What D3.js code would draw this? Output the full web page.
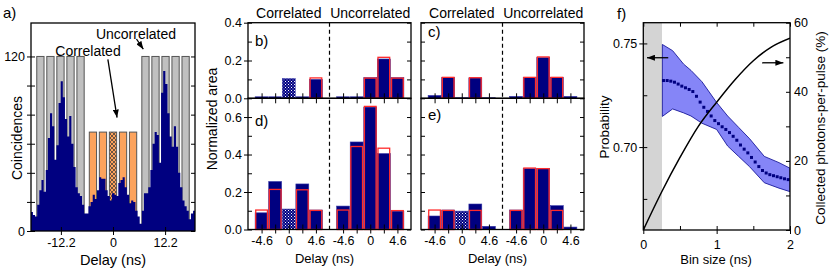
<!DOCTYPE html>
<html>
<head>
<meta charset="utf-8">
<title>Coincidences and normalized areas</title>
<script src="https://d3js.org/d3.v7.min.js"></script>
<style>
  body { margin: 0; background: #fff; }
  text { font-family: "Liberation Sans", Arial, sans-serif; }
</style>
</head>
<body>
<script>
// ---------- data: panel a (histogram of coincidences) ----------
var histStart = -19.25, histStep = 0.5;
var coincidences = [13,11,10,18,28,35,27,42,64,81,
                    72,49,59,88,103,92,77,65,79,60,
                    44,30,26,24,18,12,12,17,20,25,
                    22,28,37,36,36,28,24,21,
                    26,
                    25,24,33,35,37,30,25,19,21,
                    20,14,10,5,14,26,26,30,42,60,
                    68,66,47,95,110,101,81,65,58,72,
                    58,40,30,21,17,14,8,12,14];
var uncorrelatedCenters = [-17.0,-14.65,-12.3,-9.95,-7.6, 7.6,9.95,12.3,14.65,17.0];
var correlatedCenters = [-4.7,-2.35,0,2.35,4.7];
var uncorrelatedLevel = 120, correlatedLevel = 68, windowWidth = 1.7;
var delayTicksA = [-12.2, 0, 12.2];

// ---------- data: panels b-e (normalized areas) ----------
var binPos = [-2,-1,0,1,2, 4,5,6,7,8];
var delayTickPos = [-2,0,2,4,6,8];
var delayTickLabels = ["-4.6","0","4.6","-4.6","0","4.6"];
var bMeasured = [0.008,0.008,0.104,0.008,0.100, 0.008,0.008,0.109,0.208,0.109];
var bModel    = [0,0,0,0,0.111, 0,0,0.110,0.220,0.110];
var cMeasured = [0.015,0.110,0.003,0.108,0.003, 0.010,0.110,0.215,0.110,0.010];
var cModel    = [0,0.114,0,0.112,0, 0,0.114,0.222,0.114,0];
var dMeasured = [0.089,0.256,0.109,0.243,0.104, 0.125,0.467,0.653,0.405,0.098];
var dModel    = [0.107,0.217,0,0.215,0.105, 0.107,0.446,0.660,0.437,0.104];
var eMeasured = [0.072,0.104,0.098,0.136,0.017, 0.104,0.325,0.325,0.127,0.013];
var eModel    = [0.107,0.105,0,0.105,0, 0.105,0.331,0.328,0.105,0];

// ---------- data: panel f ----------
var curveBin = [0,0.25,0.5,0.75,1,1.25,1.5,1.75,2];
var collected = [0,11,21,30,37,43.5,49,53,55.5];
var dotBin = [0.275,0.325,0.375,0.425,0.475,0.525,0.575,0.625,0.675,0.725,
              0.775,0.825,0.875,0.925,0.975,1.025,1.075,1.125,1.175,1.225,
              1.275,1.325,1.375,1.425,1.475,1.525,1.575,1.625,1.675,1.725,
              1.775,1.825,1.875,1.925,1.975];
var probability = [0.7321,0.7321,0.7318,0.7313,0.7304,0.7294,0.7286,0.7278,0.7268,0.7245,
                   0.7217,0.7192,0.7172,0.7150,0.7128,0.7113,0.7098,0.7085,0.7070,0.7052,
                   0.7033,0.7010,0.6990,0.6972,0.6950,0.6928,0.6906,0.6887,0.6875,0.6867,
                   0.6862,0.6857,0.6852,0.6847,0.6843];
var bandBin   = [0.26,0.4,0.55,0.65,0.8,1.0,1.15,1.3,1.45,1.65,1.85,2.0];
var bandUpper = [0.7495,0.7465,0.7400,0.7370,0.7315,0.7215,0.7150,0.7095,0.7040,0.6955,0.6925,0.6898];
var bandLower = [0.7148,0.7184,0.7165,0.7150,0.7115,0.7085,0.7005,0.6955,0.6905,0.6828,0.6802,0.6785];
var gateEnd = 0.255;

var NAVY = "#000080", RED = "#ff2a2a", FS = 12.5;

var svg = d3.select("body").append("svg").attr("width", 830).attr("height", 270);
var defs = svg.append("defs");

// patterns
var xh = defs.append("pattern").attr("id","xhatch").attr("patternUnits","userSpaceOnUse")
  .attr("width",4).attr("height",4);
xh.append("rect").attr("width",4).attr("height",4).attr("fill","#fca35d");
xh.append("path").attr("d","M0,0L4,4M4,0L0,4").attr("stroke","#333").attr("stroke-width",0.7);
var ck = defs.append("pattern").attr("id","checker").attr("patternUnits","userSpaceOnUse")
  .attr("width",3).attr("height",3);
ck.append("rect").attr("width",3).attr("height",3).attr("fill",NAVY);
ck.append("rect").attr("width",1).attr("height",1).attr("fill","#fff");
ck.append("rect").attr("x",1.5).attr("y",1.5).attr("width",1).attr("height",1).attr("fill","#c8c8f0");

defs.append("marker").attr("id","arrow").attr("markerUnits","userSpaceOnUse")
  .attr("markerWidth",8).attr("markerHeight",6).attr("refX",8).attr("refY",3)
  .attr("orient","auto")
  .append("path").attr("d","M0,0L8,3L0,6Z").attr("fill","#000");

function clip(id, x0, y0, x1, y1) {
  defs.append("clipPath").attr("id", id).append("rect")
    .attr("x", x0).attr("y", y0).attr("width", x1 - x0).attr("height", y1 - y0);
}

// axis helper: size > 0 outward, < 0 inward
function axis(axisFn, scale, tx, ty, values, size, fmt, pad) {
  var a = axisFn(scale).tickValues(values).tickSize(size)
    .tickPadding(pad == null ? 2 : pad).tickFormat(fmt || function(){ return ""; });
  var g = svg.append("g").attr("transform", "translate(" + tx + "," + ty + ")").call(a);
  g.select(".domain").remove();
  g.selectAll("line").attr("stroke", "#000").attr("stroke-width", 1);
  g.selectAll("text").attr("font-size", FS).attr("fill", "#000")
    .attr("font-family", "Liberation Sans, Arial, sans-serif");
  return g;
}

function frame(x0, y0, x1, y1) {
  svg.append("rect").attr("x", x0).attr("y", y0).attr("width", x1 - x0).attr("height", y1 - y0)
    .attr("fill", "none").attr("stroke", "#000").attr("stroke-width", 1.3);
}

function label(txt, x, y, size, anchor, rot) {
  var t = svg.append("text").text(txt).attr("font-size", size).attr("fill", "#000")
    .attr("text-anchor", anchor || "start");
  if (rot) t.attr("transform", "translate(" + x + "," + y + ") rotate(-90)");
  else t.attr("x", x).attr("y", y);
  return t;
}

function hyphen(d) { return d < 0 ? "-" + Math.abs(d) : String(d); }

// ======================= panel a =======================
var xA = d3.scaleLinear().domain([-19.2, 19.2]).range([31, 195]);
var yA = d3.scaleLinear().domain([0, 143]).range([231, 23]);
clip("clipA", 31, 23, 195, 231);
var gA = svg.append("g").attr("clip-path", "url(#clipA)");

gA.selectAll("rect.unc").data(uncorrelatedCenters).join("rect")
  .attr("x", function(d){ return xA(d - windowWidth / 2); })
  .attr("width", xA(windowWidth) - xA(0))
  .attr("y", yA(uncorrelatedLevel)).attr("height", yA(0) - yA(uncorrelatedLevel))
  .attr("fill", "#c0c0c0").attr("stroke", "#555").attr("stroke-width", 1);
gA.selectAll("rect.cor").data(correlatedCenters).join("rect")
  .attr("x", function(d){ return xA(d - windowWidth / 2); })
  .attr("width", xA(windowWidth) - xA(0))
  .attr("y", yA(correlatedLevel)).attr("height", yA(0) - yA(correlatedLevel))
  .attr("fill", function(d){ return d === 0 ? "url(#xhatch)" : "#fca35d"; })
  .attr("stroke", "#555").attr("stroke-width", 1);

var histPts = coincidences.map(function(v, i){ return { x: histStart + i * histStep, v: v }; });
histPts.push({ x: histStart + coincidences.length * histStep, v: coincidences[coincidences.length - 1] });
gA.append("path").datum(histPts)
  .attr("d", d3.area().curve(d3.curveStepAfter)
    .x(function(d){ return xA(d.x); }).y0(yA(0)).y1(function(d){ return yA(d.v); }))
  .attr("fill", NAVY);

var tA = [0,20,40,60,80,100,120];
axis(d3.axisLeft, yA, 31, 0, tA, 4, function(d){ return (d === 0 || d === 120) ? d : ""; }, 2);
axis(d3.axisLeft, yA, 31, 0, tA, -4);
axis(d3.axisRight, yA, 195, 0, tA, -4);
axis(d3.axisBottom, xA, 0, 231, delayTicksA, 4, hyphen, 3);
axis(d3.axisBottom, xA, 0, 231, delayTicksA, -4);
frame(31, 23, 195, 231);

label("a)", 3, 18, 15);
label("Coincidences", 22, 138, 14, "middle", true);
label("Delay (ns)", 113, 265, 14.5, "middle");
label("Correlated", 88, 56, 14, "middle");
label("Uncorrelated", 136, 39, 14, "middle");
svg.append("line").attr("x1", xA(-1.2)).attr("y1", yA(118)).attr("x2", xA(0.95)).attr("y2", yA(78))
  .attr("stroke", "#000").attr("stroke-width", 1.3).attr("marker-end", "url(#arrow)");
svg.append("line").attr("x1", xA(5.5)).attr("y1", yA(132)).attr("x2", xA(7.1)).attr("y2", yA(125))
  .attr("stroke", "#000").attr("stroke-width", 1.3).attr("marker-end", "url(#arrow)");

// ======================= panels b-e =======================
var yTop = d3.scaleLinear().domain([0, 0.4]).range([98.3, 22.7]);
var yBot = d3.scaleLinear().domain([0, 0.7]).range([229.5, 98.3]);

function drawBars(xs, ys, measured, model, hatched) {
  var w = (xs(1) - xs(0)) * 0.95;
  var g = svg.append("g");
  g.selectAll("rect.m").data(binPos).join("rect")
    .attr("x", function(p){ return xs(p) - w / 2; }).attr("width", w)
    .attr("y", function(p, i){ return ys(measured[i]); })
    .attr("height", function(p, i){ return ys(0) - ys(measured[i]); })
    .attr("fill", function(p, i){ return i === hatched ? "url(#checker)" : NAVY; })
    .attr("stroke", "#3535a5").attr("stroke-width", 0.6);
  var idx = d3.range(binPos.length).filter(function(i){ return model[i] > 0; });
  g.selectAll("rect.r").data(idx).join("rect")
    .attr("x", function(i){ return xs(binPos[i]) - w / 2 + 0.6; }).attr("width", w - 1.2)
    .attr("y", function(i){ return ys(model[i]) + 0.6; })
    .attr("height", function(i){ return ys(0) - ys(model[i]) - 0.6; })
    .attr("fill", "none").attr("stroke", RED).attr("stroke-width", 1.3);
}

function column(x0, x1, top, bot, showLabels, letters, letterY) {
  var xs = d3.scaleLinear().domain([-3, 9]).range([x0, x1]);
  drawBars(xs, yTop, top[0], top[1], top[2]);
  drawBars(xs, yBot, bot[0], bot[1], bot[2]);
  svg.append("line").attr("x1", xs(3)).attr("x2", xs(3)).attr("y1", 22.7).attr("y2", 229.5)
    .attr("stroke", "#000").attr("stroke-width", 1.2).attr("stroke-dasharray", "4,3");

  var topT = [0, 0.1, 0.2, 0.3, 0.4], botT = [0, 0.1, 0.2, 0.3, 0.4, 0.5, 0.6];
  var lblTop = [0, 0.2, 0.4], lblBot = [0, 0.2, 0.4, 0.6];
  if (showLabels) {
    axis(d3.axisLeft, yTop, x0, 0, lblTop, 4, d3.format(".1f"), 2);
    axis(d3.axisLeft, yBot, x0, 0, lblBot.slice(1), 4, d3.format(".1f"), 2);
    axis(d3.axisLeft, yBot, x0, 0, [0], 4, d3.format(".1f"), 2);
  }
  axis(d3.axisLeft, yTop, x0, 0, topT, -4);
  axis(d3.axisLeft, yBot, x0, 0, botT, -4);
  axis(d3.axisRight, yTop, x1, 0, topT, -4);
  axis(d3.axisRight, yBot, x1, 0, botT, -4);
  axis(d3.axisBottom, xs, 0, 98.3, binPos, 5);
  axis(d3.axisBottom, xs, 0, 98.3, binPos, -5);
  axis(d3.axisBottom, xs, 0, 229.5, binPos, 4,
       function(d){ var k = delayTickPos.indexOf(d); return k < 0 ? "" : delayTickLabels[k]; }, 3);
  axis(d3.axisBottom, xs, 0, 229.5, binPos, -5);
  frame(x0, 22.7, x1, 98.3);
  frame(x0, 98.3, x1, 229.5);

  label("Correlated", xs(0), 18, 14, "middle");
  label("Uncorrelated", xs(6), 18, 14, "middle");
  label(letters[0], x0 + 7, letterY[0], 15);
  label(letters[1], x0 + 7, letterY[1], 15);
  label("Delay (ns)", (x0 + x1) / 2 - 5, 263, 13, "middle");
}

column(248, 411, [bMeasured, bModel, 2], [dMeasured, dModel, 2], true, ["b)", "d)"], [46, 126]);
column(421, 584, [cMeasured, cModel, -1], [eMeasured, eModel, 2], false, ["c)", "e)"], [37, 120]);
label("Normalized area", 217, 119, 14, "middle", true);

// ======================= panel f =======================
var xF = d3.scaleLinear().domain([0, 2]).range([643.3, 790]);
var yF = d3.scaleLinear().domain([0.66, 0.76]).range([230, 22.7]);
var yR = d3.scaleLinear().domain([0, 60]).range([230, 22.7]);
clip("clipF", 643.3, 22.7, 790, 230);
var gF = svg.append("g").attr("clip-path", "url(#clipF)");

gF.append("rect").attr("x", xF(0)).attr("y", 22.7).attr("width", xF(gateEnd) - xF(0))
  .attr("height", 230 - 22.7).attr("fill", "#d4d4d4");

var band = bandBin.map(function(b, i){ return { x: b, lo: bandLower[i], hi: bandUpper[i] }; });
gF.append("path").datum(band)
  .attr("d", d3.area().x(function(d){ return xF(d.x); })
    .y0(function(d){ return yF(d.lo); }).y1(function(d){ return yF(d.hi); }))
  .attr("fill", "#8585f7").attr("stroke", "#1a1a9a").attr("stroke-width", 0.9);

gF.selectAll("rect.dot").data(dotBin).join("rect")
  .attr("x", function(d){ return xF(d) - 1.5; })
  .attr("y", function(d, i){ return yF(probability[i]) - 1.5; })
  .attr("width", 3).attr("height", 3).attr("fill", NAVY);

gF.append("path").datum(curveBin)
  .attr("d", d3.line().curve(d3.curveMonotoneX)
    .x(function(d){ return xF(d); }).y(function(d, i){ return yR(collected[i]); }))
  .attr("fill", "none").attr("stroke", "#000").attr("stroke-width", 1.5);

var tL = [0.675, 0.7, 0.725, 0.75];
axis(d3.axisLeft, yF, 643.3, 0, [0.7, 0.75], 4, d3.format(".2f"), 2);
axis(d3.axisLeft, yF, 643.3, 0, tL, -4);
var tR = [0, 10, 20, 30, 40, 50, 60];
axis(d3.axisRight, yR, 790, 0, tR, -4, function(d){ return d % 20 === 0 ? d : ""; }, 4);
var tB = [0, 0.5, 1, 1.5, 2];
axis(d3.axisBottom, xF, 0, 230, [0, 1, 2], 4, d3.format("d"), 6);
axis(d3.axisBottom, xF, 0, 230, tB, -4);
axis(d3.axisTop, xF, 0, 22.7, tB, -4);
frame(643.3, 22.7, 790, 230);

svg.append("line").attr("x1", xF(0.34)).attr("x2", xF(0.05)).attr("y1", yF(0.7431)).attr("y2", yF(0.7431))
  .attr("stroke", "#000").attr("stroke-width", 1.3).attr("marker-end", "url(#arrow)");
svg.append("line").attr("x1", xF(1.62)).attr("x2", xF(1.91)).attr("y1", yR(48.4)).attr("y2", yR(48.4))
  .attr("stroke", "#000").attr("stroke-width", 1.3).attr("marker-end", "url(#arrow)");

label("f)", 617, 19, 15);
label("Probability", 609, 127, 13.5, "middle", true);
label("Collected photons-per-pulse (%)", 825, 128, 13.5, "middle", true);
label("Bin size (ns)", 716, 264, 13, "middle");
</script>
</body>
</html>
